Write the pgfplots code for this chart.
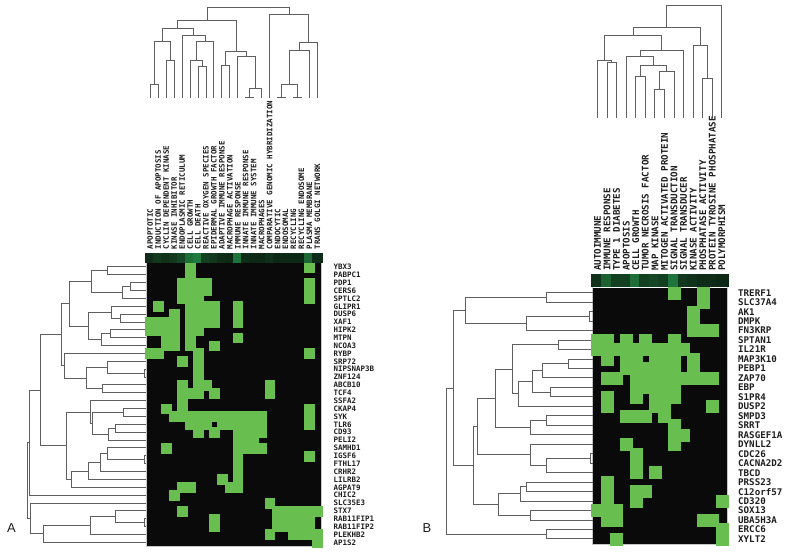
\documentclass[border=0pt]{standalone}
\usepackage{pgfplots}
\pgfplotsset{compat=1.18}
\usepackage{pgfplotstable}
\usepackage{fontspec}
\setmainfont{Liberation Sans}
\newfontfamily\labfont{DejaVu Sans Mono}

\definecolor{cellg}{RGB}{104,191,80}
\definecolor{hmk}{RGB}{10,10,10}
\definecolor{dgray}{RGB}{95,95,95}
\definecolor{labc}{RGB}{30,30,30}

\tikzset{dend/.style={draw=dgray, line width=0.9bp, mark=none}}
% left tree merge: x1,y1, merge x, y2, x2
\newcommand{\lm}[5]{\addplot[dend] coordinates {(#1,#2)(#3,#2)(#3,#4)(#5,#4)};}
% top tree merge: x1,y1, merge y, x2,y2
\newcommand{\tm}[5]{\addplot[dend] coordinates {(#1,#2)(#1,#3)(#4,#3)(#4,#5)};}

% green cells, panel A (column c, row r)
\pgfplotstableread[row sep=\\]{
c r\\
5 0\\ 20 0\\
5 1\\
4 2\\ 5 2\\ 6 2\\ 7 2\\ 20 2\\
4 3\\ 5 3\\ 6 3\\ 7 3\\ 20 3\\
4 4\\ 5 4\\ 6 4\\ 20 4\\
1 5\\ 5 5\\ 6 5\\ 7 5\\ 8 5\\ 11 5\\
3 6\\ 5 6\\ 6 6\\ 7 6\\ 8 6\\ 11 6\\
0 7\\ 1 7\\ 2 7\\ 3 7\\ 5 7\\ 6 7\\ 7 7\\ 8 7\\ 11 7\\
0 8\\ 1 8\\ 2 8\\ 3 8\\ 5 8\\ 6 8\\
2 9\\ 3 9\\ 5 9\\ 11 9\\
2 10\\ 3 10\\ 5 10\\ 8 10\\
0 11\\ 1 11\\ 6 11\\ 20 11\\
4 12\\ 6 12\\
6 13\\
6 14\\
4 15\\ 6 15\\ 7 15\\ 15 15\\
4 16\\ 5 16\\ 6 16\\ 8 16\\ 15 16\\
4 17\\
2 18\\ 4 18\\ 20 18\\
3 19\\ 4 19\\ 5 19\\ 6 19\\ 7 19\\ 8 19\\ 9 19\\ 10 19\\ 11 19\\ 12 19\\ 13 19\\ 14 19\\ 20 19\\
5 20\\ 6 20\\ 7 20\\ 9 20\\ 10 20\\ 11 20\\ 12 20\\ 13 20\\ 14 20\\ 20 20\\
6 21\\ 8 21\\ 11 21\\ 12 21\\ 13 21\\ 14 21\\
11 22\\ 12 22\\ 13 22\\
2 23\\ 11 23\\ 12 23\\ 13 23\\ 14 23\\
11 24\\ 20 24\\
11 25\\
11 26\\
9 27\\ 11 27\\
4 28\\ 5 28\\ 10 28\\ 11 28\\
3 29\\
15 30\\
4 31\\ 16 31\\ 17 31\\ 18 31\\ 19 31\\ 20 31\\ 21 31\\
8 32\\ 16 32\\ 17 32\\ 18 32\\ 19 32\\ 20 32\\
8 33\\ 16 33\\ 17 33\\ 18 33\\ 19 33\\ 20 33\\
15 34\\ 18 34\\ 19 34\\ 20 34\\ 21 34\\
21 35\\
}\cellsA

% green cells, panel B
\pgfplotstableread[row sep=\\]{
c r\\
8 0\\ 11 0\\
11 1\\
10 2\\
10 3\\
10 4\\ 11 4\\ 12 4\\
0 5\\ 1 5\\ 3 5\\ 5 5\\ 8 5\\
0 6\\ 1 6\\ 2 6\\ 3 6\\ 4 6\\ 5 6\\ 6 6\\ 7 6\\ 8 6\\ 9 6\\
1 7\\ 3 7\\ 4 7\\ 6 7\\ 7 7\\ 8 7\\ 10 7\\
3 8\\ 4 8\\ 5 8\\ 6 8\\ 7 8\\ 8 8\\ 10 8\\
1 9\\ 2 9\\ 4 9\\ 5 9\\ 6 9\\ 7 9\\ 8 9\\ 9 9\\ 10 9\\ 11 9\\ 12 9\\
4 10\\ 5 10\\ 6 10\\ 7 10\\ 8 10\\
1 11\\ 4 11\\ 6 11\\ 7 11\\ 8 11\\
1 12\\ 6 12\\ 7 12\\ 12 12\\
3 13\\ 4 13\\ 5 13\\ 7 13\\
8 14\\
8 15\\ 9 15\\
3 16\\ 8 16\\
4 17\\
4 18\\
4 19\\ 6 19\\
1 20\\
1 21\\ 4 21\\ 5 21\\
1 22\\ 4 22\\ 13 22\\
0 23\\ 1 23\\ 2 23\\
1 24\\ 2 24\\ 11 24\\ 12 24\\
13 25\\
2 26\\ 13 26\\
}\cellsB

% header strips (relative intensity)
\pgfplotstableread[row sep=\\]{
c v\\
0 0.15\\ 1 0.25\\ 2 0.2\\ 3 0.25\\ 4 0.35\\ 5 0.65\\ 6 0.75\\ 7 0.3\\ 8 0.25\\ 9 0.15\\ 10 0.12\\
11 0.7\\ 12 0.15\\ 13 0.12\\ 14 0.12\\ 15 0.18\\ 16 0.12\\ 17 0.12\\ 18 0.12\\ 19 0.12\\ 20 0.6\\ 21 0.15\\
}\hdrA
\pgfplotstableread[row sep=\\]{
c v\\
0 0.2\\ 1 0.55\\ 2 0.3\\ 3 0.3\\ 4 0.65\\ 5 0.3\\ 6 0.35\\ 7 0.3\\ 8 0.7\\ 9 0.25\\ 10 0.2\\ 11 0.15\\ 12 0.15\\ 13 0.12\\
}\hdrB

\pgfplotstableread[col sep=comma]{
c,lab
0,APOPTOTIC
1,INDUCTION OF APOPTOSIS
2,CYCLIN DEPENDENT KINASE
3,KINASE INHIBITOR
4,ENDOPLASMIC RETICULUM
5,CELL GROWTH
6,CELL DEATH
7,REACTIVE OXYGEN SPECIES
8,EPIDERMAL GROWTH FACTOR
9,ADAPTIVE IMMUNE RESPONSE
10,MACROPHAGE ACTIVATION
11,IMMUNE RESPONSE
12,INNATE IMMUNE RESPONSE
13,INNATE IMMUNE SYSTEM
14,MACROPHAGES
15,COMPARATIVE GENOMIC HYBRIDIZATION
16,ENDOCYTIC
17,ENDOSOMAL
18,RECYCLING
19,RECYCLING ENDOSOME
20,PLASMA MEMBRANE
21,TRANS GOLGI NETWORK
}\colA

\pgfplotstableread[col sep=comma]{
r,lab
0,YBX3
1,PABPC1
2,PDP1
3,CERS6
4,SPTLC2
5,GLIPR1
6,DUSP6
7,XAF1
8,HIPK2
9,MTPN
10,NCOA3
11,RYBP
12,SRP72
13,NIPSNAP3B
14,ZNF124
15,ABCB10
16,TCF4
17,SSFA2
18,CKAP4
19,SYK
20,TLR6
21,CD93
22,PELI2
23,SAMHD1
24,IGSF6
25,FTHL17
26,CRHR2
27,LILRB2
28,AGPAT9
29,CHIC2
30,SLC35E3
31,STX7
32,RAB11FIP1
33,RAB11FIP2
34,PLEKHB2
35,AP1S2
}\rowA

\pgfplotstableread[col sep=comma]{
c,lab
0,AUTOIMMUNE
1,IMMUNE RESPONSE
2,TYPE 1 DIABETES
3,APOPTOSIS
4,CELL GROWTH
5,TUMOR NECROSIS FACTOR
6,MAP KINASE
7,MITOGEN ACTIVATED PROTEIN
8,SIGNAL TRANSDUCTION
9,SIGNAL TRANSDUCER
10,KINASE ACTIVITY
11,PHOSPHATASE ACTIVITY
12,PROTEIN TYROSINE PHOSPHATASE
13,POLYMORPHISM
}\colB

\pgfplotstableread[col sep=comma]{
r,lab
0,TRERF1
1,SLC37A4
2,AK1
3,DMPK
4,FN3KRP
5,SPTAN1
6,IL21R
7,MAP3K10
8,PEBP1
9,ZAP70
10,EBP
11,S1PR4
12,DUSP2
13,SMPD3
14,SRRT
15,RASGEF1A
16,DYNLL2
17,CDC26
18,CACNA2D2
19,TBCD
20,PRSS23
21,C12orf57
22,CD320
23,SOX13
24,UBA5H3A
25,ERCC6
26,XYLT2
}\rowB

\begin{document}
\begin{tikzpicture}
\begin{axis}[
    scale only axis, width=800bp, height=551bp,
    xmin=0, xmax=800, ymin=0, ymax=551, y dir=reverse,
    hide axis, clip=false,
    colormap={hdr}{rgb255=(10,24,14) rgb255=(40,155,78)},
]
\addplot[fill=white, draw=none] coordinates {(0,0)(800,0)(800,551)(0,551)} --cycle;

% ---------- panel A heatmap ----------
\addplot[fill=hmk, draw=none] coordinates {(146.3,263)(321.3,263)(321.3,546.3)(146.3,546.3)} --cycle;
\addplot[only marks, mark=square*, mark size=4.9bp, mark options={fill=cellg, draw=cellg, line width=0.4bp}]
    table[x expr={146.3+7.955*(\thisrow{c}+0.5)}, y expr={263+7.87*(\thisrow{r}+0.5)}] {\cellsA};
\addplot[scatter, only marks, mark=square*, mark size=4.8bp, point meta=explicit,
    point meta min=0, point meta max=1, mark options={line width=0.4bp},
    scatter/use mapped color={draw=mapped color, fill=mapped color}]
    table[x expr={146.3+7.955*(\thisrow{c}+0.5)}, y expr=257.6, meta=v] {\hdrA};
\addplot[draw=gray!45, line width=0.6bp] coordinates {(145.9,253.4)(321.7,253.4)(321.7,546.7)(145.9,546.7)} --cycle;

% ---------- panel B heatmap ----------
\addplot[fill=hmk, draw=none] coordinates {(592.7,288)(726.7,288)(726.7,543.7)(592.7,543.7)} --cycle;
\addplot[only marks, mark=square*, mark size=5.98bp, mark options={fill=cellg, draw=cellg, line width=0.4bp}]
    table[x expr={592.7+9.57*(\thisrow{c}+0.5)}, y expr={288+9.47*(\thisrow{r}+0.5)}] {\cellsB};
\addplot[scatter, only marks, mark=square*, mark size=5.86bp, point meta=explicit,
    point meta min=0, point meta max=1, mark options={line width=0.4bp},
    scatter/use mapped color={draw=mapped color, fill=mapped color}]
    table[x expr={592.7+9.57*(\thisrow{c}+0.5)}, y expr=280.3, meta=v] {\hdrB};
\addplot[draw=gray!45, line width=0.6bp] coordinates {(592.3,274.9)(727.1,274.9)(727.1,544.1)(592.3,544.1)} --cycle;

% ---------- labels ----------
\addplot[only marks, mark=none, point meta=explicit symbolic, nodes near coords,
    nodes near coords style={rotate=90, anchor=west, inner sep=0pt, text=labc,
      font=\labfont\bfseries\fontsize{7.5}{8}\selectfont}]
    table[x expr={146.3+7.955*(\thisrow{c}+0.5)}, y expr=249.5, meta=lab] {\colA};
\addplot[only marks, mark=none, point meta=explicit symbolic, nodes near coords,
    nodes near coords style={anchor=west, inner sep=0pt, text=labc,
      font=\labfont\bfseries\fontsize{7.5}{8}\selectfont}]
    table[x expr=333.5, y expr={263+7.87*(\thisrow{r}+0.5)}, meta=lab] {\rowA};
\addplot[only marks, mark=none, point meta=explicit symbolic, nodes near coords,
    nodes near coords style={rotate=90, anchor=west, inner sep=0pt, text=labc,
      font=\labfont\bfseries\fontsize{9.2}{10}\selectfont}]
    table[x expr={592.7+9.57*(\thisrow{c}+0.5)}, y expr=271, meta=lab] {\colB};
\addplot[only marks, mark=none, point meta=explicit symbolic, nodes near coords,
    nodes near coords style={anchor=west, inner sep=0pt, text=labc,
      font=\labfont\bfseries\fontsize{9.2}{10}\selectfont}]
    table[x expr=738, y expr={288+9.47*(\thisrow{r}+0.5)}, meta=lab] {\rowB};

\node[text=labc, font=\fontsize{13}{15}\selectfont] at (axis cs:11.5,528.5) {A};
\node[text=labc, font=\fontsize{13}{15}\selectfont] at (axis cs:427,528.5) {B};

% ---------- top dendrogram A ----------
\tm{150.3}{98}{84.2}{158.2}{98}
\tm{166.2}{98}{60.1}{174.1}{98}
\tm{154.25}{84.2}{41.3}{170.15}{60.1}
\tm{198.0}{98}{66.7}{206.0}{98}
\tm{190.1}{98}{60.1}{202.0}{66.7}
\tm{196.05}{60.1}{41.3}{213.9}{98}
\tm{182.1}{98}{35.4}{205.0}{41.3}
\tm{162.2}{41.3}{28.8}{193.55}{35.4}
\tm{221.9}{98}{65.1}{229.8}{98}
\tm{245.7}{98}{97}{253.7}{98}
\tm{249.7}{97}{88.2}{261.7}{98}
\tm{237.8}{98}{56.8}{255.7}{88.2}
\tm{225.85}{65.1}{51.2}{246.75}{56.8}
\tm{177.9}{28.8}{20.5}{236.3}{51.2}
\tm{277.6}{98}{97}{285.5}{98}
\tm{293.5}{98}{97}{301.4}{98}
\tm{281.55}{97}{84.2}{297.45}{97}
\tm{289.5}{84.2}{50.2}{309.4}{98}
\tm{299.45}{50.2}{42}{317.3}{98}
\tm{269.6}{98}{14.9}{308.4}{42}
\tm{207.1}{20.5}{7.3}{289.0}{14.9}

% ---------- top dendrogram B ----------
\tm{607.1}{118}{62.4}{616.6}{118}
\tm{597.5}{118}{60.1}{611.85}{62.4}
\tm{635.8}{118}{76.6}{645.3}{118}
\tm{654.9}{118}{89.8}{664.5}{118}
\tm{659.7}{89.8}{71.7}{674.0}{118}
\tm{640.55}{76.6}{65.1}{666.85}{71.7}
\tm{626.2}{118}{56.8}{653.7}{65.1}
\tm{639.95}{56.8}{50.2}{683.6}{118}
\tm{604.7}{60.1}{35.4}{661.8}{50.2}
\tm{702.7}{118}{78.3}{712.3}{118}
\tm{693.2}{118}{45.3}{707.5}{78.3}
\tm{633.25}{35.4}{27.1}{700.35}{45.3}
\tm{666.8}{27.1}{5}{721.9}{118}

% ---------- left dendrogram A ----------
\lm{146.3}{266.9}{107.3}{274.8}{146.3}
\lm{146.3}{282.7}{130.7}{290.5}{146.3}
\lm{130.7}{286.6}{122.7}{298.4}{146.3}
\lm{107.3}{270.85}{91.7}{292.5}{122.7}
\lm{146.3}{314.1}{120.7}{322.0}{146.3}
\lm{146.3}{306.3}{111.7}{318.05}{120.7}
\lm{146.3}{329.9}{110}{337.7}{146.3}
\lm{110}{333.8}{101.7}{345.6}{146.3}
\lm{111.7}{312.2}{88.3}{339.7}{101.7}
\lm{91.7}{281.7}{69.3}{325.95}{88.3}
\lm{146.3}{369.2}{144}{377.1}{146.3}
\lm{146.3}{361.3}{107.3}{373.15}{144}
\lm{146.3}{384.9}{102.7}{392.8}{146.3}
\lm{107.3}{367.2}{86.7}{388.85}{102.7}
\lm{146.3}{353.5}{64.3}{378.0}{86.7}
\lm{69.3}{303.8}{61}{365.75}{64.3}
\lm{146.3}{408.6}{123.3}{416.4}{146.3}
\lm{146.3}{424.3}{115}{432.2}{146.3}
\lm{115}{428.25}{108.3}{440.0}{146.3}
\lm{123.3}{412.5}{92.7}{434.1}{108.3}
\lm{146.3}{400.7}{90}{423.3}{92.7}
\lm{146.3}{455.8}{144}{463.6}{146.3}
\lm{146.3}{447.9}{107.3}{459.7}{144}
\lm{107.3}{453.8}{100}{471.5}{146.3}
\lm{100}{462.65}{88}{479.4}{146.3}
\lm{88}{471.0}{71.7}{487.2}{146.3}
\lm{90}{412.0}{66.7}{479.1}{71.7}
\lm{61}{334.8}{40.7}{445.55}{66.7}
\lm{146.3}{518.7}{144}{526.6}{146.3}
\lm{146.3}{510.8}{115}{522.65}{144}
\lm{115}{516.7}{90}{534.4}{146.3}
\lm{90}{525.55}{43.3}{542.3}{146.3}
\lm{146.3}{503.0}{30}{533.9}{43.3}
\lm{40.7}{390.2}{29.3}{495.1}{146.3}
\lm{29.3}{442.65}{27.3}{518.45}{30}

% ---------- left dendrogram B ----------
\lm{592.7}{292.7}{546}{302.2}{592.7}
\lm{592.7}{311.7}{589}{321.1}{592.7}
\lm{589}{316.4}{526.7}{330.6}{592.7}
\lm{546}{297.45}{465}{323.5}{526.7}
\lm{592.7}{340.1}{558}{349.5}{592.7}
\lm{592.7}{359.0}{568}{368.5}{592.7}
\lm{568}{363.75}{542}{377.9}{592.7}
\lm{592.7}{387.4}{550}{396.9}{592.7}
\lm{542}{370.8}{532}{392.15}{550}
\lm{532}{381.5}{518}{406.3}{592.7}
\lm{558}{344.8}{512}{393.9}{518}
\lm{592.7}{415.8}{546}{425.3}{592.7}
\lm{546}{420.55}{530}{434.8}{592.7}
\lm{512}{369.35}{495}{427.7}{530}
\lm{592.7}{453.7}{590}{463.2}{592.7}
\lm{590}{458.45}{546}{472.6}{592.7}
\lm{592.7}{444.2}{530}{465.5}{546}
\lm{495}{398.5}{477}{454.85}{530}
\lm{592.7}{482.1}{526}{491.6}{592.7}
\lm{526}{486.85}{520}{501.0}{592.7}
\lm{592.7}{510.5}{530}{520.0}{592.7}
\lm{520}{493.9}{498}{515.25}{530}
\lm{477}{426.7}{473}{504.6}{498}
\lm{465}{310.5}{453}{465.65}{473}
\lm{592.7}{529.4}{546}{538.9}{592.7}
\lm{453}{388.1}{446.7}{534.15}{546}
\end{axis}
\end{tikzpicture}
\end{document}
